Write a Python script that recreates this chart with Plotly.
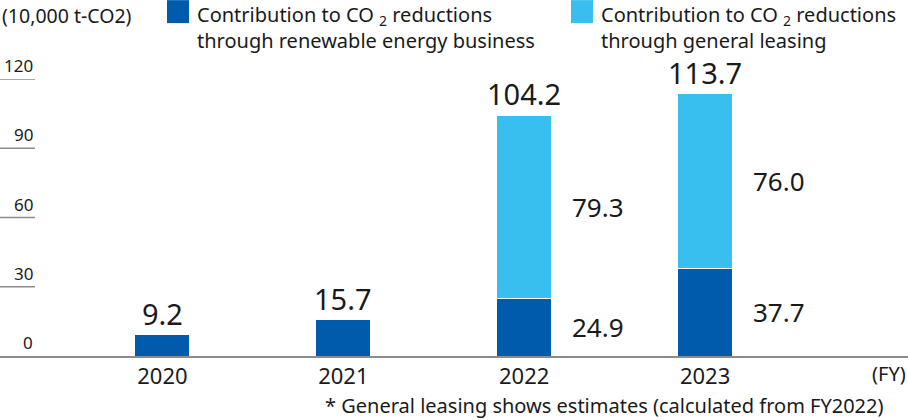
import plotly.graph_objects as go

# data (10,000 t-CO2)
years = ["2020", "2021", "2022", "2023"]
renewable = [9.2, 15.7, 24.9, 37.7]
leasing = [None, None, 79.3, 76.0]
totals = [9.2, 15.7, 104.2, 113.7]
y_ticks = [0, 30, 60, 90, 120]

DARK = "#005BAC"
LIGHT = "#38BEEF"
TXT = "#1a1a1a"
FONT = "Noto Sans"
W, H = 908, 420
TOP, BOT = 79, 63.5
PLOT_H = H - TOP - BOT

fig = go.Figure()
fig.add_trace(go.Bar(x=years, y=renewable, marker=dict(color=DARK, line=dict(color="white", width=1)),
                     width=0.304, name="renewable"))
fig.add_trace(go.Bar(x=years, y=leasing, marker=dict(color=LIGHT, line=dict(color="white", width=1)),
                     width=0.304, name="leasing"))

ann = []
# totals above bars (category axis -> use index position)
for i, t in enumerate(totals):
    ann.append(dict(x=i, y=t, text=f"{t:.1f}", showarrow=False, yanchor="bottom", yshift=0,
                    font=dict(size=29, color=TXT)))
# segment labels right of stacked bars
for i, (r, l) in enumerate(zip(renewable, leasing)):
    if l is None:
        continue
    ann.append(dict(x=i, y=r / 2, text=f"{r:.1f}", showarrow=False, xanchor="left", xshift=46,
                    font=dict(size=26, color=TXT)))
    ann.append(dict(x=i, y=r + l / 2, text=f"{l:.1f}", showarrow=False, xanchor="left", xshift=46,
                    font=dict(size=26, color=TXT)))

# y tick labels sit on top of short lines
shapes = []
for v in y_ticks:
    ann.append(dict(x=35 / W, xref="paper", y=v, text=str(v), showarrow=False, xanchor="right",
                    yanchor="bottom", font=dict(size=17, color=TXT)))
    if v > 0:
        shapes.append(dict(type="line", xref="paper", x0=0, x1=35 / W, y0=v, y1=v,
                           line=dict(color="#8c8c8c", width=1.5)))

top_p = 1 + TOP / PLOT_H
ann.append(dict(x=0, xref="paper", y=top_p, yref="paper", text="(10,000 t-CO2)", showarrow=False,
                xanchor="left", yanchor="top", font=dict(size=19.5, color=TXT)))

# legend
legend_items = [
    (167, DARK, "Contribution to CO <sub>2</sub> reductions<br>through renewable energy business"),
    (571, LIGHT, "Contribution to CO <sub>2</sub> reductions<br>through general leasing"),
]
for x0, col, txt in legend_items:
    shapes.append(dict(type="rect", xref="paper", yref="paper", x0=x0 / W, x1=(x0 + 22) / W,
                       y0=1 + (TOP - 23) / PLOT_H, y1=top_p, fillcolor=col, line=dict(width=0)))
    ann.append(dict(x=(x0 + 28) / W, xref="paper", y=top_p, yref="paper", text=txt, showarrow=False,
                    xanchor="left", yanchor="top", align="left", yshift=1, font=dict(size=20, color=TXT)))

ann.append(dict(x=1, xref="paper", y=0, yref="paper", text="(FY)", showarrow=False,
                xanchor="right", yanchor="top", yshift=-2, font=dict(size=20, color=TXT)))
ann.append(dict(x=886 / W, xref="paper", y=(TOP + PLOT_H - 420 + 14) / PLOT_H, yref="paper",
                text="* General leasing shows estimates (calculated from FY2022)", showarrow=False,
                xanchor="right", yanchor="middle", font=dict(size=20, color=TXT)))

fig.update_layout(
    width=W, height=H, barmode="stack", showlegend=False,
    margin=dict(l=0, r=0, t=TOP, b=BOT),
    plot_bgcolor="white", paper_bgcolor="white",
    font=dict(family=FONT, color=TXT),
    annotations=ann, shapes=shapes,
)
fig.update_xaxes(type="category", range=[-0.898, 4.122], showline=True, linecolor="#8c8c8c", linewidth=1.5,
                 ticks="", tickfont=dict(size=22, color=TXT), showgrid=False)
fig.update_yaxes(range=[0, 120], showticklabels=False, showgrid=False, zeroline=False)
for tr in fig.data:
    tr.update(cliponaxis=False, hoverinfo="skip")

# drop the browser's default body margin so the chart fills the window
fig.write_html("out.html", config={"displayModeBar": False},
               post_script="document.body.style.margin='0';")
